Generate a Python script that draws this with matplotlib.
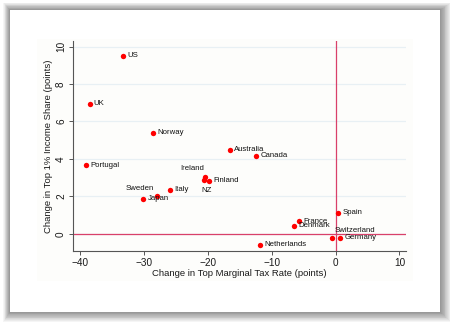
import matplotlib
matplotlib.use('Agg')
import matplotlib.pyplot as plt
from matplotlib.patches import Rectangle

plt.rcParams['font.family'] = ['Liberation Sans', 'DejaVu Sans']

# data
countries = ['US', 'UK', 'Norway', 'Australia', 'Canada', 'Portugal',
             'Ireland', 'Finland', 'NZ', 'Sweden', 'Japan', 'Italy',
             'Spain', 'France', 'Denmark', 'Switzerland', 'Germany',
             'Netherlands']
tax_change = [-33.2, -38.5, -28.5, -16.5, -12.4, -39.0,
              -20.4, -19.8, -20.6, -28.0, -30.1, -25.9,
              0.4, -5.7, -6.45, -0.56, 0.7, -11.8]
share_change = [9.52, 6.96, 5.4, 4.5, 4.17, 3.67,
                3.03, 2.84, 2.88, 2.0, 1.86, 2.34,
                1.13, 0.67, 0.42, -0.22, -0.2, -0.58]
# label placement: offsets (points) and alignment
label_pos = {'Ireland': (-1, 4, 'right', 'bottom'),
             'Sweden': (-2, 3, 'right', 'bottom'),
             'NZ': (2, -5, 'center', 'top'),
             'Switzerland': (2, 3, 'left', 'bottom')}

xticks = [-40, -30, -20, -10, 0, 10]
yticks = [0, 2, 4, 6, 8, 10]

W, H = 450, 322
fig = plt.figure(figsize=(W / 100, H / 100), dpi=100)
fig.patch.set_facecolor('white')


def px_rect(x0, y0, x1, y1, **kw):
    return Rectangle((x0 / W, 1 - y1 / H), (x1 - x0) / W, (y1 - y0) / H,
                     transform=fig.transFigure, **kw)


# soft drop shadow, heavier to the right and below
for i in range(12, 0, -1):
    fig.patches.append(px_rect(10 - i * 0.55, 10 - i * 0.6, 440 + i * 0.9, 312 + i * 0.8,
                               facecolor='black', edgecolor='none', alpha=0.04))
fig.patches.append(px_rect(10, 10, 440, 312, facecolor='white', edgecolor='none'))
# stata graph region tint
fig.patches.append(px_rect(37, 39, 413, 281, facecolor='#fdfdfb', edgecolor='none'))

ax = fig.add_axes([73 / W, 1 - 251 / H, 333 / W, 210 / H])
ax.set_zorder(5)
ax.set_facecolor('#fdfdfb')

ax.set_xlim(-41.1, 11.03)
ax.set_ylim(-0.92, 10.3)

for y in yticks:
    ax.axhline(y, color='#e8f0f4', lw=0.9, zorder=0)
ax.axhline(0, color='#d9406a', lw=0.9, zorder=1)
ax.axvline(0, color='#d9406a', lw=0.9, zorder=1)

ax.scatter(tax_change, share_change, s=15, color='#ff0000', zorder=3, linewidths=0)

for name, x, y in zip(countries, tax_change, share_change):
    dx, dy, ha, va = label_pos.get(name, (3, 0, 'left', 'center'))
    ax.annotate(name, (x, y), xytext=(dx, dy), textcoords='offset points',
                ha=ha, va=va, fontsize=5.6, color='#111111', zorder=4)

for side in ['top', 'right']:
    ax.spines[side].set_visible(False)
for side in ['left', 'bottom']:
    ax.spines[side].set_color('#555555')
    ax.spines[side].set_linewidth(0.8)

ax.set_xticks(xticks)
ax.set_yticks(yticks)
ax.set_yticklabels([str(v) for v in yticks], rotation=90, va='center')
ax.tick_params(axis='both', length=3, width=0.7, color='#555555',
               labelsize=7.2, pad=2, labelcolor='#1a1a1a')

ax.set_xlabel('Change in Top Marginal Tax Rate (points)', fontsize=6.8,
              color='#1a1a1a', labelpad=1)
ax.set_ylabel('Change in Top 1% Income Share (points)', fontsize=6.8,
              color='#1a1a1a', labelpad=2)

fig.savefig('out.png', dpi=100)
